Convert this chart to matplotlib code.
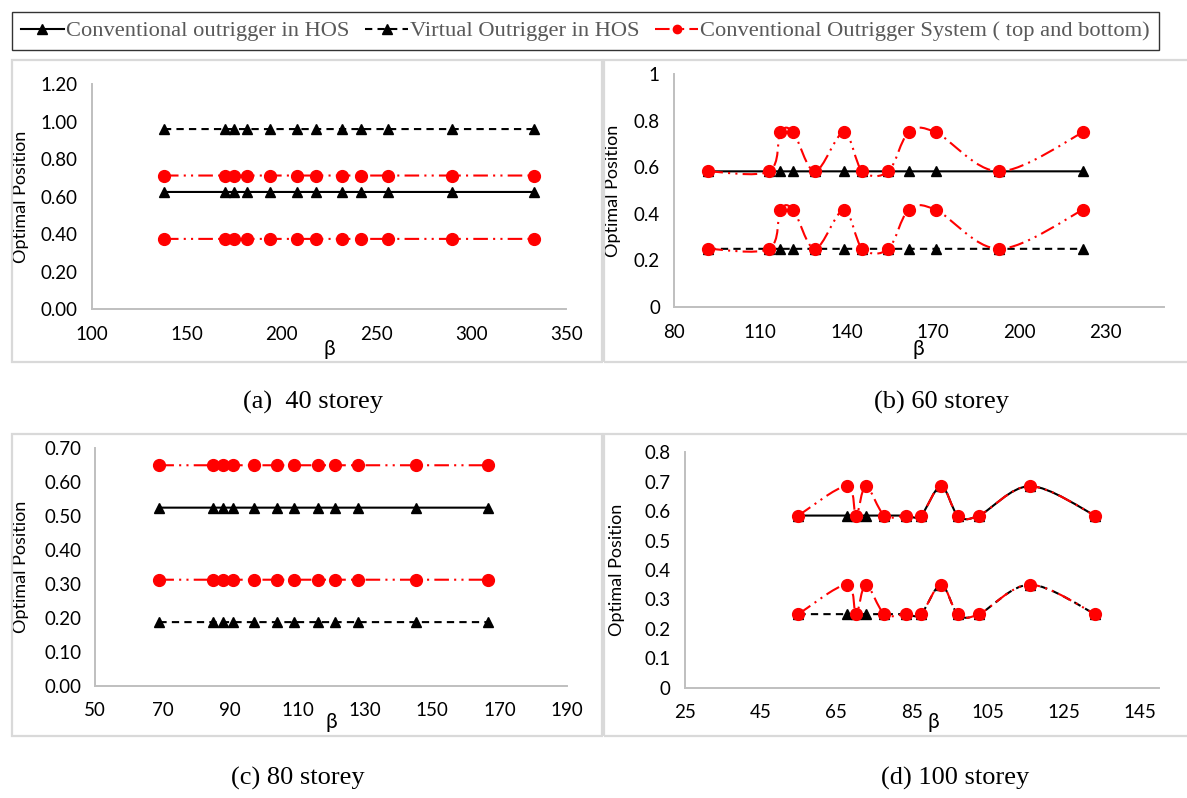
import matplotlib
matplotlib.use('Agg')
import matplotlib.pyplot as plt
import numpy as np
from matplotlib.lines import Line2D
from matplotlib.patches import PathPatch, Rectangle
from matplotlib.path import Path

# ---- data ----
# (a) 40 storey
beta_40 = [138, 170, 175, 182, 194, 208, 218, 232, 242, 256, 290, 333]
conv_hos_40 = [0.625, 0.625, 0.625, 0.625, 0.625, 0.625, 0.625, 0.625, 0.625, 0.625, 0.625, 0.625]
virt_hos_40 = [0.96, 0.96, 0.96, 0.96, 0.96, 0.96, 0.96, 0.96, 0.96, 0.96, 0.96, 0.96]
conv_top_40 = [0.7125, 0.7125, 0.7125, 0.7125, 0.7125, 0.7125, 0.7125, 0.7125, 0.7125, 0.7125, 0.7125, 0.7125]
conv_bot_40 = [0.375, 0.375, 0.375, 0.375, 0.375, 0.375, 0.375, 0.375, 0.375, 0.375, 0.375, 0.375]

# (b) 60 storey
beta_60 = [92, 113, 117, 121.5, 129, 139, 145.5, 154.5, 161.5, 171, 193, 222]
conv_hos_60 = [0.583, 0.583, 0.583, 0.583, 0.583, 0.583, 0.583, 0.583, 0.583, 0.583, 0.583, 0.583]
virt_hos_60 = [0.25, 0.25, 0.25, 0.25, 0.25, 0.25, 0.25, 0.25, 0.25, 0.25, 0.25, 0.25]
conv_top_60 = [0.583, 0.583, 0.75, 0.75, 0.583, 0.75, 0.583, 0.583, 0.75, 0.75, 0.583, 0.75]
conv_bot_60 = [0.25, 0.25, 0.417, 0.417, 0.25, 0.417, 0.25, 0.25, 0.417, 0.417, 0.25, 0.417]

# (c) 80 storey
beta_80 = [69, 85, 88, 91, 97, 104, 109, 116, 121, 128, 145, 166.5]
conv_hos_80 = [0.525, 0.525, 0.525, 0.525, 0.525, 0.525, 0.525, 0.525, 0.525, 0.525, 0.525, 0.525]
virt_hos_80 = [0.1875, 0.1875, 0.1875, 0.1875, 0.1875, 0.1875, 0.1875, 0.1875, 0.1875, 0.1875, 0.1875, 0.1875]
conv_top_80 = [0.65, 0.65, 0.65, 0.65, 0.65, 0.65, 0.65, 0.65, 0.65, 0.65, 0.65, 0.65]
conv_bot_80 = [0.3125, 0.3125, 0.3125, 0.3125, 0.3125, 0.3125, 0.3125, 0.3125, 0.3125, 0.3125, 0.3125, 0.3125]

# (d) 100 storey
beta_100 = [55, 67.7, 70.2, 72.8, 77.7, 83.3, 87.3, 92.6, 97.1, 102.6, 116.1, 133.3]
conv_hos_100 = [0.585, 0.585, 0.585, 0.585, 0.585, 0.585, 0.585, 0.685, 0.585, 0.585, 0.685, 0.585]
virt_hos_100 = [0.25, 0.25, 0.25, 0.25, 0.25, 0.25, 0.25, 0.35, 0.25, 0.25, 0.35, 0.25]
conv_top_100 = [0.585, 0.685, 0.585, 0.685, 0.585, 0.585, 0.585, 0.685, 0.585, 0.585, 0.685, 0.585]
conv_bot_100 = [0.25, 0.35, 0.25, 0.35, 0.25, 0.25, 0.25, 0.35, 0.25, 0.25, 0.35, 0.25]

captions = ['(a)  40 storey', '(b) 60 storey', '(c) 80 storey', '(d) 100 storey']
legend_labels = ['Conventional outrigger in HOS', 'Virtual Outrigger in HOS',
                 'Conventional Outrigger System ( top and bottom)']

W, H = 1187, 798
RED = '#ff0000'
DASH = (0, (3.5, 2.5))
DASHDOTDOT = (0, (7, 2.5, 1, 2.5, 1, 2.5))
TICK_FONT = 'Lato'
SERIF = 'Liberation Serif'


def smooth_path(x, y):
    # Excel style smoothed line: cubic bezier through every point
    pts = np.column_stack([x, y]).astype(float)
    n = len(pts)
    verts = [pts[0]]
    codes = [Path.MOVETO]
    for i in range(n - 1):
        p0 = pts[max(i - 1, 0)]
        p1 = pts[i]
        p2 = pts[i + 1]
        p3 = pts[min(i + 2, n - 1)]
        verts += [p1 + (p2 - p0) / 6, p2 - (p3 - p1) / 6, p2]
        codes += [Path.CURVE4] * 3
    return Path(verts, codes)


def draw_series(ax, x, y, color, ls, marker, ms, z):
    ax.add_patch(PathPatch(smooth_path(x, y), fill=False, edgecolor=color,
                           lw=1.5, linestyle=ls, zorder=z))
    ax.plot(x, y, ls='none', marker=marker, color=color, markersize=ms, zorder=z + 0.5)


def px_axes(fig, left, top, right, bottom):
    return fig.add_axes([left / W, 1 - bottom / H, (right - left) / W, (bottom - top) / H])


fig = plt.figure(figsize=(W / 100, H / 100), dpi=100)

# panel frames (light grey boxes around each chart)
for (l, t, r, b) in [(12, 60, 602, 362), (604, 60, 1195, 362),
                     (12, 434, 602, 736), (604, 434, 1195, 736)]:
    fig.add_artist(Rectangle((l / W, 1 - b / H), (r - l) / W, (b - t) / H,
                             transform=fig.transFigure, fill=False,
                             edgecolor='#d9d9d9', lw=1.6))

panels = [
    dict(box=(91.8, 84, 566.4, 309.3), beta=beta_40,
         series=(conv_hos_40, virt_hos_40, conv_top_40, conv_bot_40),
         xlim=(100, 350), xticks=np.arange(100, 351, 50),
         ylim=(0, 1.2), yticks=np.arange(0, 1.21, 0.2), yfmt='{:.2f}',
         ylab_x=-0.132, xlab_xy=(0.5, -0.132), cap=(313, 402)),
    dict(box=(673.8, 74.3, 1163.5, 307), beta=beta_60,
         series=(conv_hos_60, virt_hos_60, conv_top_60, conv_bot_60),
         xlim=(80, 250), xticks=np.arange(80, 231, 30),
         ylim=(0, 1), yticks=np.arange(0, 1.01, 0.2), yfmt='{:g}',
         ylab_x=-0.107, xlab_xy=(0.5, -0.1375), cap=(941, 402)),
    dict(box=(95.3, 448.3, 567.2, 685.7), beta=beta_80,
         series=(conv_hos_80, virt_hos_80, conv_top_80, conv_bot_80),
         xlim=(50, 190), xticks=np.arange(50, 191, 20),
         ylim=(0, 0.7), yticks=np.arange(0, 0.71, 0.1), yfmt='{:.2f}',
         ylab_x=-0.141, xlab_xy=(0.5, -0.111), cap=(298, 778)),
    dict(box=(684.6, 452.3, 1158.6, 687.7), beta=beta_100,
         series=(conv_hos_100, virt_hos_100, conv_top_100, conv_bot_100),
         xlim=(25, 150), xticks=np.arange(25, 146, 20),
         ylim=(0, 0.8), yticks=np.arange(0, 0.81, 0.1), yfmt='{:g}',
         ylab_x=-0.126, xlab_xy=(0.524, -0.103), cap=(955, 778)),
]

for i, p in enumerate(panels):
    ax = px_axes(fig, *p['box'])
    conv, virt, top, bot = p['series']
    draw_series(ax, p['beta'], conv, 'black', '-', '^', 7, 2)
    draw_series(ax, p['beta'], virt, 'black', DASH, '^', 7, 3)
    draw_series(ax, p['beta'], top, RED, DASHDOTDOT, 'o', 8.5, 4)
    draw_series(ax, p['beta'], bot, RED, DASHDOTDOT, 'o', 8.5, 5)

    ax.set_xlim(*p['xlim'])
    ax.set_ylim(*p['ylim'])
    ax.set_xticks(p['xticks'])
    ax.set_yticks(p['yticks'])
    ax.set_yticklabels([p['yfmt'].format(v) for v in p['yticks']])
    for sp in ['top', 'right']:
        ax.spines[sp].set_visible(False)
    for sp in ['left', 'bottom']:
        ax.spines[sp].set_color('#bfbfbf')
        ax.spines[sp].set_linewidth(1.4)
    ax.tick_params(axis='y', length=0, labelsize=13.5, pad=10)
    ax.tick_params(axis='x', length=0, labelsize=13.5, pad=12)
    for lab in ax.get_xticklabels() + ax.get_yticklabels():
        lab.set_fontfamily(TICK_FONT)
    ax.set_ylabel('Optimal Position', fontfamily=TICK_FONT, fontsize=13)
    ax.yaxis.set_label_coords(p['ylab_x'], 0.5)
    ax.set_xlabel('β', fontfamily=TICK_FONT, fontsize=15)
    ax.xaxis.set_label_coords(*p['xlab_xy'])
    ax.patch.set_alpha(0)

    cx, cy = p['cap']
    fig.text(cx / W, 1 - cy / H, captions[i], ha='center', va='center',
             fontfamily=SERIF, fontsize=19)

handles = [
    Line2D([], [], color='black', lw=1.5, marker='^', markersize=7),
    Line2D([], [], color='black', lw=1.5, ls=DASH, marker='^', markersize=7),
    Line2D([], [], color=RED, lw=1.5, ls=DASHDOTDOT, marker='o', markersize=6),
]
leg = fig.legend(handles, legend_labels, loc='center', bbox_to_anchor=(585.5 / W, 1 - 31 / H),
                 ncol=3, frameon=True, fancybox=False, edgecolor='black',
                 prop={'family': SERIF, 'size': 16.2}, labelcolor='#595959',
                 handlelength=1.9, handletextpad=0.1, columnspacing=0.7,
                 borderpad=0.4, borderaxespad=0)
leg.get_frame().set_linewidth(1.0)

fig.savefig('out.png', dpi=100)
